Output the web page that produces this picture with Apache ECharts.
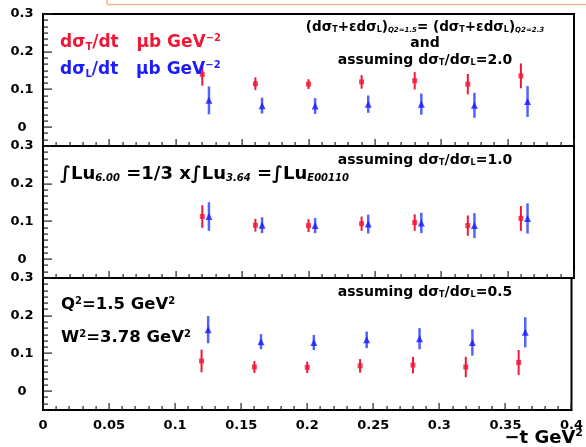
<!DOCTYPE html>
<html><head><meta charset="utf-8">
<script src="https://cdn.jsdelivr.net/npm/echarts@6/dist/echarts.min.js"></script>
<style>html,body{margin:0;padding:0;background:#fff}#c{width:586px;height:447px}</style>
</head><body><div id="c"></div>
<script>
// ---- data ----
const tRed  = [0.12, 0.16, 0.20, 0.24, 0.28, 0.32, 0.36];
const tBlue = [0.125, 0.165, 0.205, 0.245, 0.285, 0.325, 0.365];
// panel 1: assuming dsT/dsL = 2.0
const sigT_20 = [0.140, 0.115, 0.114, 0.120, 0.123, 0.114, 0.136];
const errT_20 = [0.030, 0.017, 0.013, 0.018, 0.023, 0.027, 0.033];
const sigL_20 = [0.071, 0.057, 0.056, 0.061, 0.061, 0.058, 0.068];
const errL_20 = [0.037, 0.021, 0.021, 0.023, 0.028, 0.033, 0.041];
// panel 2: assuming dsT/dsL = 1.0
const sigT_10 = [0.113, 0.090, 0.089, 0.094, 0.097, 0.089, 0.108];
const errT_10 = [0.030, 0.017, 0.017, 0.019, 0.022, 0.027, 0.033];
const sigL_10 = [0.113, 0.090, 0.089, 0.093, 0.096, 0.089, 0.108];
const errL_10 = [0.038, 0.021, 0.020, 0.025, 0.027, 0.033, 0.040];
// panel 3: assuming dsT/dsL = 0.5
const sigT_05 = [0.080, 0.064, 0.063, 0.067, 0.069, 0.064, 0.076];
const errT_05 = [0.030, 0.016, 0.015, 0.018, 0.022, 0.027, 0.033];
const sigL_05 = [0.163, 0.131, 0.129, 0.136, 0.139, 0.129, 0.156];
const errL_05 = [0.036, 0.020, 0.020, 0.022, 0.028, 0.035, 0.040];
// tick positions
const xMajor = [0, 0.05, 0.1, 0.15, 0.2, 0.25, 0.3, 0.35, 0.4];
const xMinor = [0.01, 0.02, 0.03, 0.04, 0.06, 0.07, 0.08, 0.09, 0.11, 0.12, 0.13, 0.14,
                0.16, 0.17, 0.18, 0.19, 0.21, 0.22, 0.23, 0.24, 0.26, 0.27, 0.28, 0.29,
                0.31, 0.32, 0.33, 0.34, 0.36, 0.37, 0.38, 0.39];
const yMajor = [0, 0.1, 0.2, 0.3];
const yMinor = [-1, -2, 1, 2, 3, 4, 5, 7, 8, 9, 10, 11, 13, 14, 15, 16, 17].map(k => k / 60);

const panels = [
  {T: sigT_20, eT: errT_20, L: sigL_20, eL: errL_20},
  {T: sigT_10, eT: errT_10, L: sigL_10, eL: errL_10},
  {T: sigT_05, eT: errT_05, L: sigL_05, eL: errL_05}
];

const RED = '#ee1838';
const BLUE = '#1c1cff';
const BLUE_BAR = 'rgba(40,60,255,0.8)';
const FONT = 'DejaVu Sans';
const tops = [14, 146, 278];
const YMIN = -0.05, YMAX = 0.3;

const tickData = []
  .concat(xMajor.map(v => [v, YMIN, 0]))
  .concat(xMinor.map(v => [v, YMIN, 1]))
  .concat(yMajor.map(v => [0, v, 2]))
  .concat(yMinor.map(v => [0, v, 3]));
const tickLen = [7, 4, 9, 5];

const grid = [], xAxis = [], yAxis = [], series = [];
panels.forEach((p, i) => {
  grid.push({left: 43, width: 531, top: tops[i], height: 132, show: true,
    borderColor: '#000', borderWidth: 2, backgroundColor: 'transparent'});
  xAxis.push({gridIndex: i, type: 'value', min: 0, max: 0.4, interval: 0.05,
    axisLine: {show: true, onZero: false, lineStyle: {color: '#000', width: 2}},
    axisTick: {show: false}, splitLine: {show: false},
    axisLabel: {show: i === 2, color: '#000', fontFamily: FONT, fontWeight: 'bold', fontSize: 13, margin: 9}
  });
  yAxis.push({gridIndex: i, type: 'value', min: YMIN, max: YMAX,
    axisLine: {show: true, onZero: false, lineStyle: {color: '#000', width: 2}},
    axisTick: {show: false},
    axisLabel: {show: true, customValues: yMajor, color: '#000', fontFamily: FONT, fontWeight: 'bold', fontSize: 13,
      align: 'center', margin: 21, formatter: v => String(Math.round(v * 10) / 10)},
    splitLine: {show: false}
  });
  // inside ticks drawn as thin filled rects, positioned via the axes' scales
  series.push({type: 'custom', xAxisIndex: i, yAxisIndex: i, z: 6, silent: true, clip: false,
    encode: {x: 0, y: 1}, data: tickData.map(d => [d[0], d[1]]),
    renderItem: (params, api) => {
      const d = tickData[params.dataIndex];
      const c = api.coord([d[0], d[1]]);
      const len = tickLen[d[2]];
      const cx = Math.round(c[0]), cy = Math.round(c[1]);
      const shape = d[2] < 2 ? {x: cx - 0.5, y: cy - len, width: 1.2, height: len}
                             : {x: cx, y: cy - 0.5, width: len, height: 1.2};
      return {type: 'rect', shape: shape, style: {fill: '#222', stroke: null}};
    }
  });
  const bars = (xs, ys, es, color, w) => ({
    type: 'custom', xAxisIndex: i, yAxisIndex: i, z: 3,
    encode: {x: 0, y: [1, 2]},
    data: xs.map((x, k) => [x, ys[k] - es[k], ys[k] + es[k]]),
    renderItem: (params, api) => {
      const a = api.coord([api.value(0), api.value(1)]);
      const b = api.coord([api.value(0), api.value(2)]);
      return {type: 'line', shape: {x1: a[0], y1: a[1], x2: b[0], y2: b[1]},
        style: {stroke: color, lineWidth: w}};
    }
  });
  series.push(bars(tRed, p.T, p.eT, RED, 2));
  series.push(bars(tBlue, p.L, p.eL, BLUE_BAR, 2.5));
  series.push({type: 'scatter', xAxisIndex: i, yAxisIndex: i, z: 4, symbol: 'rect', symbolSize: 5,
    itemStyle: {color: RED}, data: tRed.map((x, k) => [x, p.T[k]])});
  series.push({type: 'scatter', xAxisIndex: i, yAxisIndex: i, z: 4, symbol: 'triangle', symbolSize: [7, 7],
    itemStyle: {color: BLUE}, data: tBlue.map((x, k) => [x, p.L[k]])});
});

const sub = (fs, pad) => ({fontSize: fs, fontWeight: 'bold', fontFamily: FONT, padding: [pad, 0, 0, 0]});
const sup = (fs, pad) => ({fontSize: fs, fontWeight: 'bold', fontFamily: FONT, padding: [0, 0, pad, 0]});

function txt(x, y, text, size, color, rich, align, italic) {
  return {type: 'text', x: x, y: y, z: 10,
    style: {text: text, fill: color, fontSize: size, fontWeight: 'bold', fontFamily: FONT,
      fontStyle: italic ? 'italic' : 'normal',
      align: align || 'left', verticalAlign: 'middle', rich: rich || {}}};
}

const graphic = [
  {type: 'line', shape: {x1: 107, y1: 4.5, x2: 586, y2: 4.5}, style: {stroke: '#f2b48a', lineWidth: 1.5}},
  {type: 'line', shape: {x1: 107, y1: 0, x2: 107, y2: 4.5}, style: {stroke: '#f2b48a', lineWidth: 1.5}},
  txt(60, 43, 'dσ{s|T}/dt   μb GeV{p|−2}', 17, RED, {s: sub(10, 8), p: sup(10, 9)}),
  txt(60, 70, 'dσ{s|L}/dt   μb GeV{p|−2}', 17, BLUE, {s: sub(10, 8), p: sup(10, 9)}),
  txt(425, 27, '(dσ{s|T}+εdσ{s|L}){q|Q2=1.5}= (dσ{s|T}+εdσ{s|L}){q|Q2=2.3}', 13.5, '#000',
      {s: sub(8, 6), q: Object.assign(sub(7, 7), {fontStyle: 'italic'})}, 'center'),
  txt(425, 43, 'and', 14, '#000', {}, 'center'),
  txt(425, 60, 'assuming dσ{s|T}/dσ{s|L}=2.0', 14, '#000', {s: sub(8, 6)}, 'center'),
  txt(425, 160, 'assuming dσ{s|T}/dσ{s|L}=1.0', 14, '#000', {s: sub(8, 6)}, 'center'),
  txt(425, 292, 'assuming dσ{s|T}/dσ{s|L}=0.5', 14, '#000', {s: sub(8, 6)}, 'center'),
  txt(60, 174, '∫Lu{s|6.00} =1/3 x∫Lu{s|3.64} =∫Lu{s|E00110}', 18, '#000',
      {s: Object.assign(sub(10, 8), {fontStyle: 'italic'})}, 'left', false),
  txt(61, 305, 'Q{p|2}=1.5 GeV{p|2}', 16.5, '#000', {p: sup(10, 8)}),
  txt(61, 338, 'W{p|2}=3.78 GeV{p|2}', 16.5, '#000', {p: sup(10, 8)}),
  txt(583, 438, '−t GeV{p|2}', 18, '#000', {p: sup(11, 9)}, 'right')
];

const chart = echarts.init(document.getElementById('c'), null, {renderer: 'canvas'});
chart.setOption({animation: false, backgroundColor: '#fff', grid, xAxis, yAxis, series, graphic});
</script>
</body></html>
